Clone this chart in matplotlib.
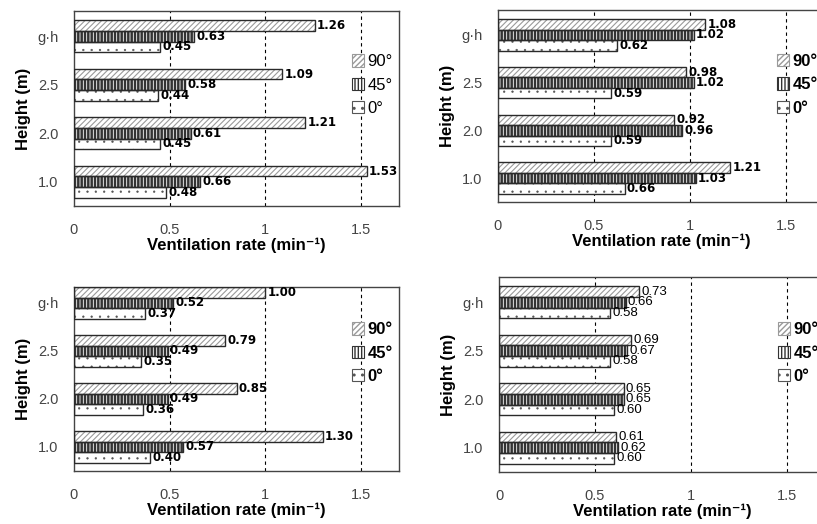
import numpy as np
import matplotlib
matplotlib.use('Agg')
import matplotlib.pyplot as plt
from matplotlib.patches import Patch

plt.rcParams['font.family'] = ['Liberation Sans', 'DejaVu Sans']

# Categories, bottom to top
heights = ['1.0', '2.0', '2.5', 'g\u00b7h']
angles = ['90\u00b0', '45\u00b0', '0\u00b0']

# Ventilation rates (min^-1) per panel: 90, 45, 0 degree
p1_90 = [1.53, 1.21, 1.09, 1.26]
p1_45 = [0.66, 0.61, 0.58, 0.63]
p1_0 = [0.48, 0.45, 0.44, 0.45]

p2_90 = [1.21, 0.92, 0.98, 1.08]
p2_45 = [1.03, 0.96, 1.02, 1.02]
p2_0 = [0.66, 0.59, 0.59, 0.62]

p3_90 = [1.30, 0.85, 0.79, 1.00]
p3_45 = [0.57, 0.49, 0.49, 0.52]
p3_0 = [0.40, 0.36, 0.35, 0.37]

p4_90 = [0.61, 0.65, 0.69, 0.73]
p4_45 = [0.62, 0.65, 0.67, 0.66]
p4_0 = [0.60, 0.60, 0.58, 0.58]

xticks = [0, 0.5, 1, 1.5]
xtick_labels = ['0', '0.5', '1', '1.5']

W, H = 817, 524
fig = plt.figure(figsize=(W / 100, H / 100), dpi=100)

# hatch style per series: (hatch, hatch colour, hatch linewidth)
styles = [('//////', '#9a9a9a', 0.8), ('|||||', '#333333', 1.8), ('..', '#555555', 0.4)]
bar_h = 0.22
offsets = [bar_h, 0, -bar_h]


def px_axes(left, top, right, bottom):
    return fig.add_axes([left / W, 1 - bottom / H, (right - left) / W, (bottom - top) / H])


def draw_panel(rect, series, ylim, legend_y, bold_vals=True, bold_legend=True):
    ax = px_axes(*rect)
    y = np.arange(len(heights))
    for vals, off, (hatch, hc, hlw) in zip(series, offsets, styles):
        with plt.rc_context({'hatch.linewidth': hlw}):
            ax.barh(y + off, vals, height=bar_h, color='white', edgecolor=hc,
                    hatch=hatch, linewidth=0, zorder=2)
        ax.barh(y + off, vals, height=bar_h, fill=False, edgecolor='#2a2a2a',
                linewidth=1.0, zorder=3)
        for yi, v in zip(y + off, vals):
            ax.text(v + 0.012, yi, f'{v:.2f}', va='center', ha='left',
                    fontsize=8.5 if bold_vals else 9.5,
                    fontweight='bold' if bold_vals else 'normal',
                    family=['DejaVu Sans'] if bold_vals else ['Liberation Sans'],
                    color='black', zorder=4)
    ax.set_xlim(0, 1.7)
    ax.set_ylim(*ylim)
    for xv in [0.5, 1, 1.5]:
        ax.axvline(xv, color='black', linestyle=(0, (3, 3)), linewidth=0.8, zorder=1)
    ax.set_xticks(xticks)
    ax.set_xticklabels(xtick_labels)
    ax.set_yticks(y)
    ax.set_yticklabels(heights)
    ax.tick_params(length=0, labelsize=10.5, labelcolor='#444444')
    ax.tick_params(axis='x', pad=12)
    ax.tick_params(axis='y', pad=11)
    for s in ax.spines.values():
        s.set_color('#444444')
        s.set_linewidth(1.0)
    ax.set_xlabel('Ventilation rate (min\u207b\u00b9)', fontsize=12, fontweight='bold',
                  labelpad=1)
    ax.set_ylabel('Height (m)', fontsize=12, fontweight='bold', labelpad=5)
    handles = []
    for h, hc, hlw in styles:
        with plt.rc_context({'hatch.linewidth': hlw}):
            handles.append(Patch(facecolor='white', edgecolor=hc, hatch=h, linewidth=0.8))
    ax.legend(handles, angles, loc='center left', bbox_to_anchor=(0.855, legend_y),
              frameon=False, handlelength=0.75, handleheight=0.75, handletextpad=0.2,
              labelspacing=0.5, borderpad=0, borderaxespad=0,
              prop={'size': 12, 'weight': 'bold' if bold_legend else 'normal'})
    return ax


draw_panel((74, 11, 399, 206), [p1_90, p1_45, p1_0], (-0.5, 3.52), 0.62,
           bold_legend=False)
draw_panel((498, 10, 824, 202), [p2_90, p2_45, p2_0], (-0.5, 3.52), 0.61)
draw_panel((74, 287, 399, 471), [p3_90, p3_45, p3_0], (-0.5, 3.33), 0.64)
draw_panel((499, 277, 825, 472), [p4_90, p4_45, p4_0], (-0.5, 3.52), 0.61,
           bold_vals=False)

fig.savefig('out.png', dpi=100)
